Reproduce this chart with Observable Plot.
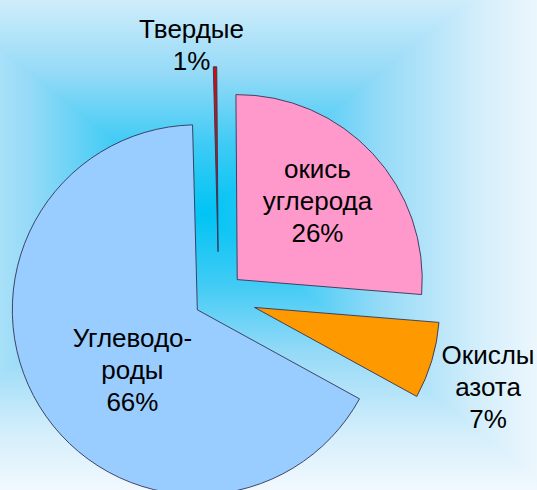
<!DOCTYPE html>
<html><head><meta charset="utf-8">
<script src="https://cdn.jsdelivr.net/npm/d3@7"></script>
<script src="https://cdn.jsdelivr.net/npm/@observablehq/plot@0.6"></script>
<style>html,body{margin:0;padding:0;background:#fff;} #chart svg{display:block}</style>
</head><body><div id="chart"></div>
<script>
// ---- data ----
const names = ["Твердые", "окись углерода", "Окислы азота", "Углеводороды"];
const labelLines = [["Твердые", "1%"], ["окись", "углерода", "26%"], ["Окислы", "азота", "7%"], ["Углеводо-", "роды", "66%"]];
const shares = [0.3, 26.4, 6.7, 66.6];
const colors = ["#cc1010", "#ff99cc", "#ff9900", "#99ccff"];

// ---- layout ----
const W = 537, H = 490;
const centerPx = [218.8, 296.7], radiusPx = 185;
const explode = [0.243, 0.136, 0.202, 0.136];
const labelOffset = [[-5.3, 1.379], [-1.8, 0.746], [1.6, 1.53], [-8.3, 0.61]];
const startDeg = -1.48;
const rad = Math.PI / 180;

const pie = d3.pie().sort(null).value(d => d)
  .startAngle(startDeg * rad).endAngle((360 + startDeg) * rad);
const slices = pie(shares).map((a, i) => {
  const mid = (a.startAngle + a.endAngle) / 2;
  return {name: names[i], start: a.startAngle, end: a.endAngle, mid,
    cx: Math.sin(mid) * explode[i], cy: Math.cos(mid) * explode[i], fill: colors[i]};
});
const labels = slices.map((s, i) => {
  const ang = s.mid + labelOffset[i][0] * rad, r = labelOffset[i][1];
  return {text: labelLines[i].join("\n"), x: Math.sin(ang) * r, y: Math.cos(ang) * r};
});

function backdrop(index, scales, values, dims) {
  const gx = 205, gy = 213, Dx = 350, Dy = 280, k = 4;
  const stops = [[0, "#00c4f4"], [0.25, "#3fcbf5"], [0.5, "#95daf7"], [0.78, "#d3eefb"], [1, "#f3f9fe"]];
  const g = d3.create("svg:g");
  const defs = g.append("defs");
  const dirs = [
    {id: "bgL", x2: gx - Dx, y2: gy, pts: [[gx, gy], [gx - k*Dx, gy - k*Dy], [gx - k*Dx, gy + k*Dy]]},
    {id: "bgR", x2: gx + Dx, y2: gy, pts: [[gx, gy], [gx + k*Dx, gy - k*Dy], [gx + k*Dx, gy + k*Dy]]},
    {id: "bgT", x2: gx, y2: gy - Dy, pts: [[gx, gy], [gx - k*Dx, gy - k*Dy], [gx + k*Dx, gy - k*Dy]]},
    {id: "bgB", x2: gx, y2: gy + Dy, pts: [[gx, gy], [gx - k*Dx, gy + k*Dy], [gx + k*Dx, gy + k*Dy]]}
  ];
  for (const d of dirs) {
    const lg = defs.append("linearGradient").attr("id", d.id).attr("gradientUnits", "userSpaceOnUse")
      .attr("x1", gx).attr("y1", gy).attr("x2", d.x2).attr("y2", d.y2);
    for (const [o, c] of stops) lg.append("stop").attr("offset", o).attr("stop-color", c);
  }
  g.append("rect").attr("width", dims.width).attr("height", dims.height).attr("fill", "#cfeefb");
  g.selectAll("polygon").data(dirs).join("polygon")
    .attr("points", d => d.pts.map(p => p.join(",")).join(" "))
    .attr("fill", d => `url(#${d.id})`).attr("shape-rendering", "crispEdges");
  return g.node();
}

function pieMark(index, scales) {
  const {x, y} = scales;
  const R = x(1) - x(0);
  const arc = d3.arc().innerRadius(0).outerRadius(R);
  const g = d3.create("svg:g");
  g.selectAll("path").data(slices).join("path")
    .attr("transform", d => `translate(${x(d.cx)},${y(d.cy)})`)
    .attr("d", d => arc({startAngle: d.start, endAngle: d.end}))
    .attr("fill", d => d.fill)
    .attr("stroke", "#333355").attr("stroke-width", 0.9).attr("stroke-linejoin", "miter");
  return g.node();
}

const chart = Plot.plot({
  width: W, height: H, margin: 0,
  x: {domain: [-centerPx[0] / radiusPx, (W - centerPx[0]) / radiusPx], range: [0, W], axis: null},
  y: {domain: [-(H - centerPx[1]) / radiusPx, centerPx[1] / radiusPx], range: [H, 0], axis: null},
  style: {background: "transparent", overflow: "hidden"},
  marks: [
    backdrop,
    pieMark,
    Plot.text(labels, {x: "x", y: "y", text: "text", fontSize: 26, lineHeight: 32 / 26,
      fontFamily: "'Liberation Sans', Arial, sans-serif", fill: "#000", textAnchor: "middle", lineAnchor: "middle"})
  ]
});
document.getElementById("chart").appendChild(chart);
</script>
</body></html>
